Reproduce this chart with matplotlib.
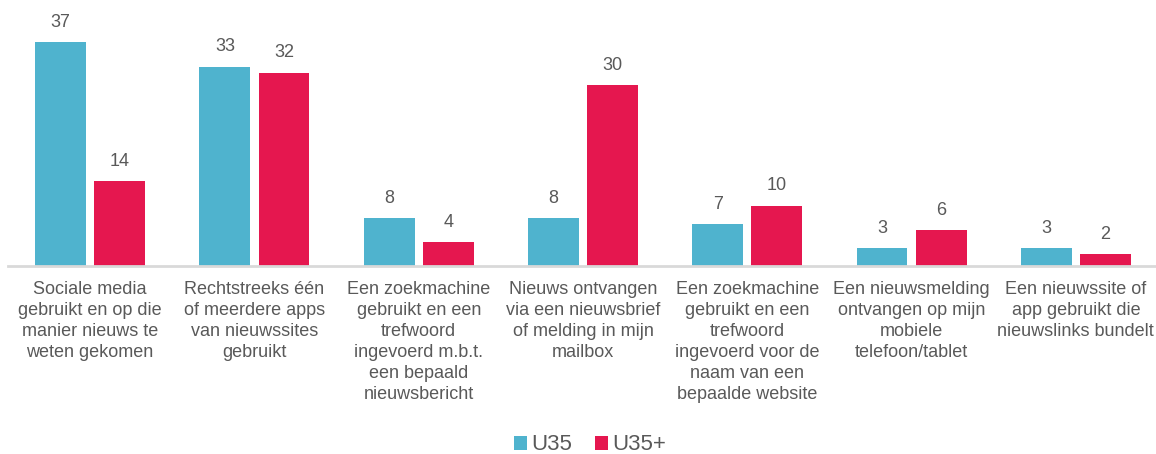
import matplotlib

matplotlib.use("Agg")
import matplotlib.pyplot as plt
import numpy as np

plt.rcParams["font.family"] = ["Liberation Sans", "DejaVu Sans"]

categories = [
    "Sociale media\ngebruikt en op die\nmanier nieuws te\nweten gekomen",
    "Rechtstreeks één\nof meerdere apps\nvan nieuwssites\ngebruikt",
    "Een zoekmachine\ngebruikt en een\ntrefwoord\ningevoerd m.b.t.\neen bepaald\nnieuwsbericht",
    "Nieuws ontvangen\nvia een nieuwsbrief\nof melding in mijn\nmailbox",
    "Een zoekmachine\ngebruikt en een\ntrefwoord\ningevoerd voor de\nnaam van een\nbepaalde website",
    "Een nieuwsmelding\nontvangen op mijn\nmobiele\ntelefoon/tablet",
    "Een nieuwssite of\napp gebruikt die\nnieuwslinks bundelt",
]
u35 = [37, 33, 8, 8, 7, 3, 3]
u35_plus = [14, 32, 4, 30, 10, 6, 2]

BLUE = "#4FB3CE"
RED = "#E5174F"
GREY = "#595959"

fig = plt.figure(figsize=(11.56, 4.54), dpi=100)
ax = fig.add_axes([8 / 1156, 1 - 266 / 454, 1150 / 1156, 266 / 454])

x = np.arange(len(categories))
w = 0.31
gap = 0.05
b1 = ax.bar(x - (w + gap) / 2, u35, w, color=BLUE, label="U35")
b2 = ax.bar(x + (w + gap) / 2, u35_plus, w, color=RED, label="U35+")
for bars in (b1, b2):
    ax.bar_label(bars, padding=8, fontsize=13, color=GREY)

ax.set_xlim(-0.5, len(categories) - 0.5)
ax.set_ylim(0, 44)
ax.set_yticks([])
ax.set_xticks(x)
ax.set_xticklabels(categories, fontsize=13, color=GREY, linespacing=1.3)
ax.tick_params(axis="x", length=0, pad=11)
for side in ("top", "right", "left"):
    ax.spines[side].set_visible(False)
ax.spines["bottom"].set_color("#D9D9D9")
ax.spines["bottom"].set_linewidth(2)

fig.legend(
    loc="center", bbox_to_anchor=(590 / 1156, 1 - 445 / 454), ncol=2, frameon=False,
    fontsize=16, handlelength=0.6, handleheight=0.6, handletextpad=0.2, columnspacing=1.0,
    labelcolor=GREY,
)

fig.savefig("out.png", dpi=100)
